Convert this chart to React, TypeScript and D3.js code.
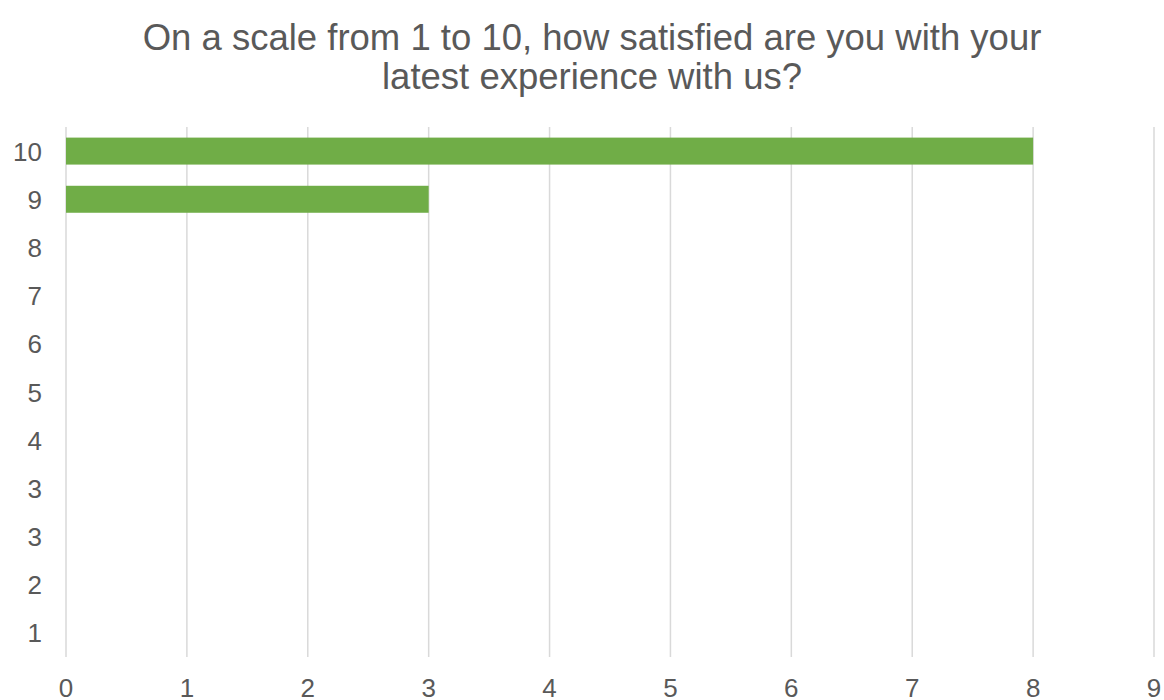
import React from "react";
import * as d3 from "d3";

const categories = ["10", "9", "8", "7", "6", "5", "4", "3", "3 ", "2", "1"];
const values = [8, 3, 0, 0, 0, 0, 0, 0, 0, 0, 0];
const xTicks = [0, 1, 2, 3, 4, 5, 6, 7, 8, 9];
const titleLines = [
  "On a scale from 1 to 10, how satisfied are you with your",
  "latest experience with us?",
];

const W = 1164;
const H = 700;
const left = 66;
const right = 1154;
const top = 127;
const bottom = 657;

export default function App() {
  const x = d3.scaleLinear().domain([0, 9]).range([left, right]);
  const y = d3
    .scaleBand<string>()
    .domain(categories)
    .range([top, bottom])
    .paddingInner(0.44)
    .paddingOuter(0.22);
  const font = "'Liberation Sans', Arial, sans-serif";
  const textColor = "#595959";
  return (
    <svg
      width={W}
      height={H}
      style={{ position: "absolute", left: 0, top: 0, background: "#fff" }}
      fontFamily={font}
    >
      {titleLines.map((t, i) => (
        <text
          key={i}
          x={592}
          y={50 + i * 39}
          textAnchor="middle"
          fontSize={36.5}
          fill={textColor}
        >
          {t}
        </text>
      ))}
      {xTicks.map((t) => (
        <line
          key={t}
          x1={x(t)}
          x2={x(t)}
          y1={top}
          y2={bottom}
          stroke="#d9d9d9"
          strokeWidth={1.5}
        />
      ))}
      {categories.map((c, i) => (
        <rect
          key={c}
          x={x(0)}
          y={y(c)}
          width={x(values[i]) - x(0)}
          height={y.bandwidth()}
          fill="#70ad47"
        />
      ))}
      {categories.map((c) => (
        <text
          key={c}
          x={42}
          y={(y(c) as number) + y.bandwidth() / 2 + 9.5}
          textAnchor="end"
          fontSize={26}
          fill={textColor}
        >
          {c.trim()}
        </text>
      ))}
      {xTicks.map((t) => (
        <text
          key={t}
          x={x(t)}
          y={697}
          textAnchor="middle"
          fontSize={26}
          fill={textColor}
        >
          {t}
        </text>
      ))}
    </svg>
  );
}
